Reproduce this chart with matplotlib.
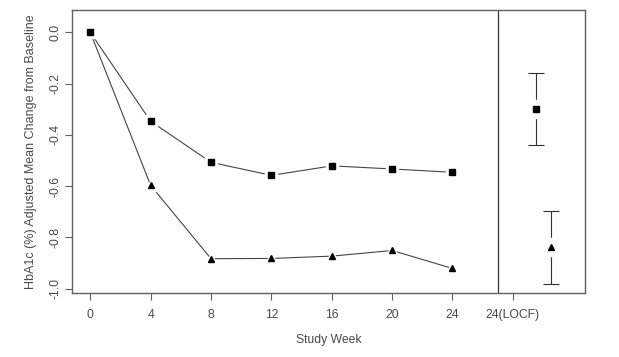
import matplotlib
matplotlib.use("Agg")
from matplotlib import pyplot as plt

# study weeks and adjusted mean change (two treatment groups)
weeks = [0, 4, 8, 12, 16, 20, 24]
sq_vals = [0.0, -0.347, -0.507, -0.558, -0.521, -0.533, -0.546]
tri_vals = [0.0, -0.597, -0.883, -0.882, -0.873, -0.851, -0.921]

# week 24 LOCF estimates with interval
locf_x = [29.5, 30.5]
locf_y = [-0.298, -0.838]
locf_lo = [-0.440, -0.981]
locf_hi = [-0.160, -0.697]

xticks = [0, 4, 8, 12, 16, 20, 24, 28]
xticklabels = ['0', '4', '8', '12', '16', '20', '24', '24(LOCF)']
yticks = [0.0, -0.2, -0.4, -0.6, -0.8, -1.0]

plt.rcParams['font.family'] = ['Liberation Sans', 'DejaVu Sans']
txt = '#4a4a4a'
frame = '#606060'
linec = '#454545'

fig = plt.figure(figsize=(6.19, 3.57), dpi=100)
ax = fig.add_axes([0.1168, 0.1784, 0.8283, 0.7936])

# lines with gaps at the markers (white halo under each marker)
ax.plot(weeks, sq_vals, color=linec, lw=0.8, zorder=2)
ax.plot(weeks[1:], tri_vals[1:], color=linec, lw=0.8, zorder=2)
ax.plot([0, 4], [tri_vals[0], tri_vals[1]], color=linec, lw=0.8, zorder=2)
ax.plot(weeks, sq_vals, ls='none', marker='s', ms=8.5, color='white', mec='white', zorder=3)
ax.plot(weeks[1:], tri_vals[1:], ls='none', marker='^', ms=8.5, color='white', mec='white', zorder=3)
ax.plot(weeks, sq_vals, ls='none', marker='s', ms=5, color='black', mec='black', zorder=4)
ax.plot(weeks[1:], tri_vals[1:], ls='none', marker='^', ms=4.6, color='black', mec='black', zorder=4)

# LOCF error bars
yerr = [[y - lo for y, lo in zip(locf_y, locf_lo)], [hi - y for y, hi in zip(locf_y, locf_hi)]]
ax.errorbar(locf_x, locf_y, yerr=yerr, fmt='none', ecolor='#333333', elinewidth=0.8,
            capsize=5.5, capthick=0.8, zorder=2)
ax.plot(locf_x, locf_y, ls='none', marker='s', ms=13, color='white', mec='white', zorder=3)
ax.plot(locf_x[0], locf_y[0], ls='none', marker='s', ms=5, color='black', zorder=4)
ax.plot(locf_x[1], locf_y[1], ls='none', marker='^', ms=4.6, color='black', zorder=4)

ax.axvline(27, color='#333333', lw=0.9, zorder=1)

ax.set_xlim(-1.19, 32.78)
ax.set_ylim(-1.018, 0.087)
ax.set_xticks(xticks)
ax.set_xticklabels(xticklabels)
ax.set_yticks(yticks)
ax.set_yticklabels(['0.0', '-0.2', '-0.4', '-0.6', '-0.8', '-1.0'], rotation=90, va='center')
ax.tick_params(axis='both', colors=frame, labelcolor=txt, labelsize=8.7, length=5, width=0.8)
ax.tick_params(axis='x', pad=6)
ax.tick_params(axis='y', pad=2.5)
for s in ax.spines.values():
    s.set_color(frame)
    s.set_linewidth(1.0)

ax.set_xlabel('Study Week', color=txt, fontsize=8.7, labelpad=10)
ax.set_ylabel('HbA1c (%) Adjusted Mean Change from Baseline', color=txt, fontsize=9, labelpad=9)

fig.savefig('out.png', dpi=100, facecolor='white')
